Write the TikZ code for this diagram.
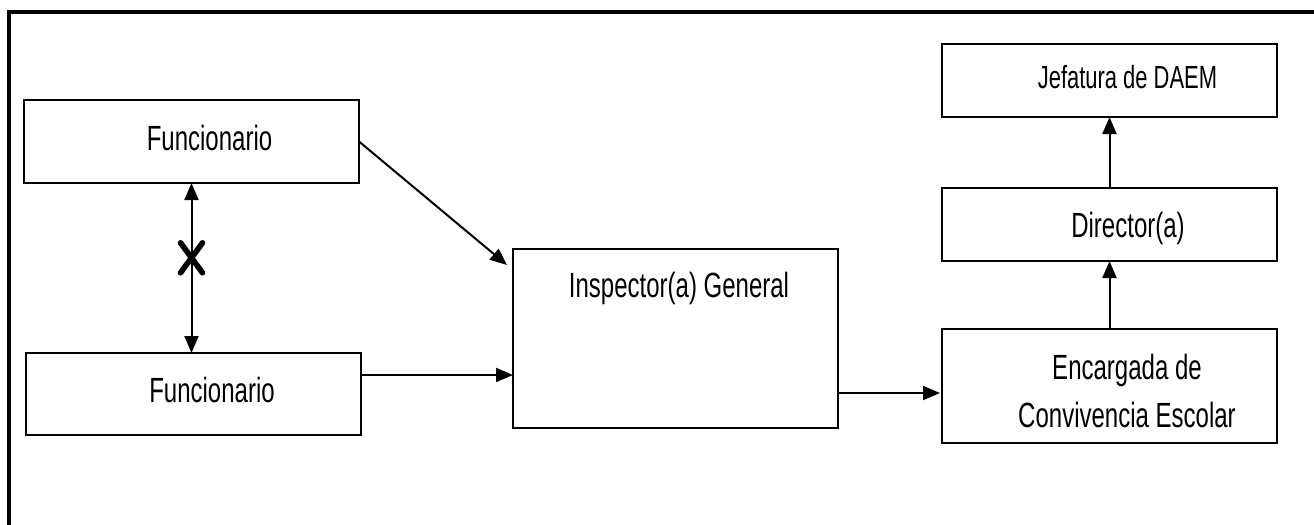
\documentclass[tikz,border=0pt]{standalone}
\usepackage{fontspec}
\newfontfamily\lblfont{Liberation Sans}[FakeStretch=0.686]
\usetikzlibrary{arrows.meta,calc}
\begin{document}
\begin{tikzpicture}[x=0.5pt,y=-0.5pt,
  box/.style={draw=black, line width=1.3pt, inner sep=0pt, outer sep=0pt},
  lbl/.style={anchor=base, inner sep=0pt, font=\lblfont\fontsize{17.5}{21}\selectfont},
  arr/.style={line width=1pt, -{Triangle[length=8.5pt,width=7pt]}},
  darr/.style={line width=1pt, {Triangle[length=8.5pt,width=7pt]}-{Triangle[length=8.5pt,width=7pt]}},
  cross/.style={line width=2.8pt, line cap=round}]
\useasboundingbox (0,0) rectangle (1314,525);
% outer frame (cut at right and bottom)
\draw[line width=2pt] (8.5,530) -- (8.5,11.5) -- (1320,11.5);
% boxes
\node[box, minimum width=167.5pt, minimum height=41.5pt] (f1) at (191.5,141.5) {};
\node[box, minimum width=167.5pt, minimum height=41pt] (f2) at (193.5,394) {};
\node[box, minimum width=162.5pt, minimum height=89.5pt] (insp) at (675.5,338.5) {};
\node[box, minimum width=167.5pt, minimum height=36.5pt] (jef) at (1109.5,80.5) {};
\node[box, minimum width=167.5pt, minimum height=36.5pt] (dir) at (1109.5,224.5) {};
\node[box, minimum width=167.5pt, minimum height=57pt] (enc) at (1109.5,386) {};
% labels
\node[lbl] (tf1) at (209.5,150) {Funcionario};
\node[lbl] (tf2) at (212,402) {Funcionario};
\node[lbl] (tinsp) at (679,297) {Inspector(a) General};
\node[lbl, font=\lblfont\fontsize{16}{19}\selectfont] (tjef) at (1127.5,88) {Jefatura de DAEM};
\node[lbl] (tdir) at (1128,237) {Director(a)};
\node[lbl] (tenc1) at (1127,379) {Encargada de};
\node[lbl] (tenc2) at (1127,427) {Convivencia Escolar};
% connectors
\draw[darr] (f1.south) -- (f1.south |- f2.north);
\coordinate (xc) at ($(f1.south)!0.44!(f1.south |- f2.north)$);
\draw[cross] ($(xc)+(-11,-15)$) -- ($(xc)+(11,15)$);
\draw[cross] ($(xc)+(11,-15)$) -- ($(xc)+(-11,15)$);
\draw[arr] (f1.east) -- ($(insp.north west)+(-6,16)$);
\draw[arr] ([yshift=9.5pt]f2.east) -- ([yshift=9.5pt]f2.east -| insp.west);
\draw[arr, shorten >=1pt] ([yshift=-27.25pt]insp.east) -- ([yshift=-27.25pt]insp.east -| enc.west);
\draw[arr] (enc.north) -- (dir.south);
\draw[arr] (dir.north) -- (jef.south);
\end{tikzpicture}
\end{document}
